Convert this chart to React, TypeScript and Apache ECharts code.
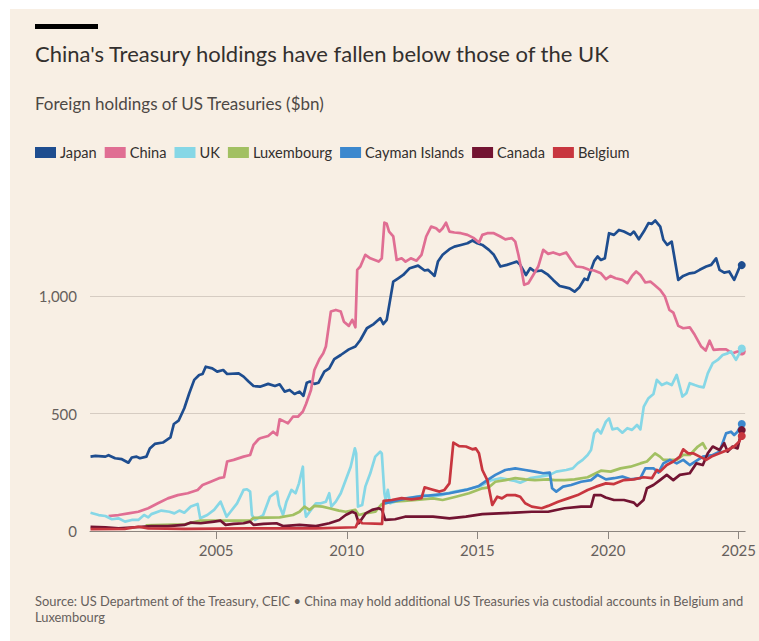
import React, { useEffect, useRef } from "react";
import * as echarts from "echarts";

const seriesNames = ["Japan", "China", "UK", "Luxembourg", "Cayman Islands", "Canada", "Belgium"];
const yTickValues = [0, 500, 1000];
const xTickValues = [2005, 2010, 2015, 2020, 2025];

const japan: [number, number][] = [
  [2000.19,317],[2000.38,320],[2000.76,317],[2000.88,323],[2001.13,310],[2001.39,306],[2001.64,291],[2001.77,313],[2001.95,317],[2002.08,310],[2002.33,317],[2002.46,352],[2002.65,371],[2002.96,377],[2003.25,399],[2003.38,456],[2003.56,470],[2003.78,523],[2003.97,587],[2004.16,644],[2004.35,665],[2004.48,669],[2004.6,700],[2004.85,693],[2005.04,679],[2005.27,686],[2005.42,669],[2005.86,672],[2006.05,658],[2006.24,637],[2006.43,618],[2006.68,615],[2006.99,627],[2007.25,618],[2007.43,625],[2007.62,594],[2007.81,601],[2008.0,584],[2008.19,594],[2008.34,576],[2008.47,632],[2008.59,637],[2008.76,627],[2008.92,632],[2009.14,679],[2009.33,693],[2009.52,732],[2009.77,750],[2010.08,774],[2010.33,786],[2010.52,814],[2010.77,864],[2011.03,882],[2011.28,907],[2011.4,882],[2011.53,900],[2011.66,985],[2011.78,1063],[2011.97,1077],[2012.16,1091],[2012.41,1120],[2012.73,1131],[2012.98,1110],[2013.11,1113],[2013.23,1101],[2013.36,1087],[2013.49,1148],[2013.67,1177],[2013.93,1201],[2014.12,1212],[2014.37,1219],[2014.62,1226],[2014.81,1238],[2015.0,1226],[2015.19,1219],[2015.44,1198],[2015.63,1177],[2015.88,1127],[2016.13,1134],[2016.32,1141],[2016.51,1148],[2016.64,1134],[2016.86,1091],[2017.02,1120],[2017.19,1106],[2017.46,1110],[2017.71,1091],[2017.9,1070],[2018.15,1044],[2018.34,1039],[2018.53,1034],[2018.72,1020],[2018.91,1039],[2019.1,1075],[2019.22,1070],[2019.35,1113],[2019.47,1150],[2019.6,1170],[2019.73,1155],[2019.88,1162],[2020.04,1269],[2020.23,1262],[2020.42,1283],[2020.61,1276],[2020.86,1262],[2020.99,1276],[2021.18,1243],[2021.37,1276],[2021.55,1312],[2021.68,1309],[2021.81,1323],[2022.0,1297],[2022.12,1241],[2022.27,1219],[2022.44,1233],[2022.56,1155],[2022.69,1070],[2022.88,1087],[2023.13,1098],[2023.32,1101],[2023.51,1113],[2023.76,1127],[2023.95,1134],[2024.14,1162],[2024.27,1113],[2024.45,1101],[2024.64,1106],[2024.83,1070],[2025.02,1120],[2025.12,1133]
];

const china: [number, number][] = [
  [2000.88,64],[2001.26,68],[2001.64,75],[2002.02,82],[2002.4,97],[2002.77,118],[2003.15,139],[2003.53,153],[2003.91,161],[2004.29,175],[2004.48,196],[2004.79,210],[2005.11,225],[2005.3,229],[2005.42,296],[2005.67,303],[2006.05,317],[2006.3,324],[2006.43,367],[2006.62,391],[2006.68,395],[2006.99,405],[2007.18,423],[2007.33,409],[2007.43,476],[2007.62,466],[2007.75,459],[2007.94,487],[2008.13,487],[2008.32,509],[2008.44,541],[2008.63,601],[2008.76,686],[2008.95,732],[2009.1,757],[2009.2,786],[2009.39,935],[2009.58,942],[2009.77,935],[2009.89,892],[2010.08,874],[2010.21,900],[2010.33,868],[2010.4,1113],[2010.52,1127],[2010.71,1177],[2010.9,1162],[2011.22,1148],[2011.34,1162],[2011.44,1314],[2011.53,1309],[2011.62,1276],[2011.78,1255],[2011.91,1155],[2012.1,1162],[2012.25,1148],[2012.45,1162],[2012.67,1152],[2012.86,1177],[2013.04,1255],[2013.23,1297],[2013.42,1290],[2013.55,1276],[2013.67,1290],[2013.8,1314],[2013.93,1276],[2014.12,1272],[2014.37,1269],[2014.62,1262],[2014.87,1248],[2015.06,1229],[2015.19,1262],[2015.38,1269],[2015.63,1269],[2015.88,1255],[2016.07,1243],[2016.32,1248],[2016.45,1233],[2016.57,1177],[2016.7,1106],[2016.79,1049],[2016.95,1056],[2017.14,1091],[2017.33,1127],[2017.52,1198],[2017.71,1181],[2017.9,1187],[2018.15,1177],[2018.4,1187],[2018.59,1155],[2018.78,1127],[2019.03,1124],[2019.28,1113],[2019.47,1110],[2019.73,1098],[2019.92,1073],[2020.1,1087],[2020.29,1077],[2020.55,1070],[2020.74,1056],[2020.92,1087],[2021.08,1106],[2021.24,1091],[2021.43,1059],[2021.62,1063],[2021.77,1049],[2022.0,1027],[2022.18,999],[2022.35,942],[2022.5,931],[2022.69,874],[2022.88,864],[2023.13,868],[2023.32,836],[2023.57,786],[2023.74,769],[2023.89,811],[2024.04,772],[2024.27,774],[2024.52,774],[2024.77,757],[2024.96,765],[2025.12,765]
];

const uk: [number, number][] = [
  [2000.19,78],[2000.5,68],[2000.76,64],[2001.01,50],[2001.26,54],[2001.51,40],[2001.77,47],[2002.02,47],[2002.24,68],[2002.4,58],[2002.52,72],[2002.9,87],[2003.21,82],[2003.4,75],[2003.59,87],[2003.78,78],[2004.03,104],[2004.29,115],[2004.39,54],[2004.66,68],[2004.92,90],[2005.17,125],[2005.4,61],[2005.55,82],[2005.8,118],[2006.05,175],[2006.18,178],[2006.3,168],[2006.37,68],[2006.49,47],[2006.8,68],[2007.06,146],[2007.25,161],[2007.33,168],[2007.41,111],[2007.56,68],[2007.69,125],[2007.88,175],[2008.04,161],[2008.17,203],[2008.32,274],[2008.38,104],[2008.44,61],[2008.63,90],[2008.82,118],[2009.01,118],[2009.2,125],[2009.33,161],[2009.41,104],[2009.58,125],[2009.77,161],[2009.96,217],[2010.15,274],[2010.31,352],[2010.36,331],[2010.43,104],[2010.59,111],[2010.71,189],[2010.9,246],[2011.09,317],[2011.28,338],[2011.34,331],[2011.44,161],[2011.49,132],[2011.57,175],[2011.66,118],[2011.85,125],[2012.23,139],[2012.6,144],[2012.98,153],[2013.23,146],[2013.61,153],[2014.12,168],[2014.62,178],[2015.12,192],[2015.5,215],[2015.88,225],[2016.38,215],[2016.64,206],[2017.02,225],[2017.39,232],[2017.77,239],[2018.02,253],[2018.4,260],[2018.65,267],[2018.84,288],[2019.03,303],[2019.22,324],[2019.35,345],[2019.47,416],[2019.6,433],[2019.73,416],[2019.92,466],[2020.04,480],[2020.17,433],[2020.36,438],[2020.55,419],[2020.74,438],[2020.92,431],[2021.11,452],[2021.24,433],[2021.37,530],[2021.55,566],[2021.74,584],[2021.87,644],[2022.06,622],[2022.25,632],[2022.44,622],[2022.63,665],[2022.75,615],[2022.85,573],[2023.0,587],[2023.13,630],[2023.32,622],[2023.51,615],[2023.66,612],[2023.82,672],[2024.01,715],[2024.2,729],[2024.39,750],[2024.58,757],[2024.71,765],[2024.9,729],[2025.02,755],[2025.12,778]
];

const luxembourg: [number, number][] = [
  [2002.3,24],[2003.0,26],[2003.8,28],[2004.4,44],[2005.2,44],[2006.3,44],[2006.43,56],[2007.43,58],[2007.94,68],[2008.19,82],[2008.38,104],[2008.57,90],[2008.76,107],[2009.07,104],[2009.33,97],[2009.7,87],[2009.96,82],[2010.33,90],[2010.46,68],[2010.71,75],[2011.09,82],[2011.34,115],[2011.72,125],[2012.2,128],[2012.67,132],[2013.3,139],[2013.67,132],[2014.18,146],[2014.68,161],[2015.19,182],[2015.44,186],[2015.69,210],[2016.07,217],[2016.45,225],[2016.83,220],[2017.2,217],[2017.71,220],[2017.96,217],[2018.34,217],[2018.72,220],[2019.22,229],[2019.73,257],[2020.1,253],[2020.48,267],[2020.86,274],[2021.24,288],[2021.49,296],[2021.8,331],[2021.99,317],[2022.12,303],[2022.63,303],[2022.88,324],[2023.13,324],[2023.44,360],[2023.63,374],[2023.76,348]
];

const cayman: [number, number][] = [
  [2011.45,118],[2011.85,128],[2012.25,138],[2012.67,146],[2013.3,153],[2013.93,161],[2014.56,175],[2015.06,192],[2015.38,217],[2015.69,239],[2016.07,260],[2016.45,267],[2016.83,260],[2017.2,253],[2017.52,246],[2017.77,249],[2017.86,182],[2018.02,168],[2018.28,189],[2018.59,196],[2018.97,210],[2019.35,217],[2019.6,239],[2019.92,220],[2020.23,225],[2020.55,232],[2020.86,220],[2021.24,225],[2021.43,267],[2021.74,267],[2021.93,249],[2022.12,288],[2022.37,303],[2022.63,288],[2022.88,303],[2023.13,281],[2023.63,317],[2024.01,324],[2024.27,338],[2024.52,416],[2024.71,423],[2024.83,409],[2024.96,423],[2025.12,456]
];

const canada: [number, number][] = [
  [2000.19,18],[2000.76,16],[2001.26,11],[2001.89,16],[2002.52,21],[2003.15,21],[2003.78,26],[2004.03,36],[2004.41,33],[2004.92,40],[2005.17,44],[2005.36,26],[2005.67,30],[2006.05,33],[2006.3,40],[2006.43,26],[2006.81,30],[2007.31,33],[2007.56,21],[2008.19,26],[2008.82,21],[2009.33,33],[2009.71,47],[2009.96,68],[2010.21,82],[2010.34,75],[2010.46,33],[2010.72,75],[2010.97,90],[2011.22,97],[2011.35,90],[2011.47,47],[2011.85,50],[2012.23,61],[2012.67,61],[2013.3,61],[2013.93,54],[2014.56,61],[2015.19,72],[2015.82,75],[2016.45,78],[2017.08,82],[2017.71,82],[2018.34,97],[2018.97,104],[2019.35,104],[2019.47,153],[2019.73,153],[2019.91,143],[2020.23,132],[2020.61,132],[2020.99,121],[2021.11,107],[2021.36,132],[2021.49,182],[2021.74,196],[2021.99,217],[2022.25,239],[2022.5,217],[2022.75,239],[2023.13,246],[2023.38,288],[2023.63,281],[2023.82,331],[2024.01,360],[2024.27,345],[2024.45,374],[2024.58,338],[2024.77,360],[2024.96,352],[2025.12,430]
];

const belgium: [number, number][] = [
  [2000.19,8],[2001.5,9],[2002.02,18],[2002.4,11],[2003.78,9],[2006.3,11],[2008.82,11],[2010.34,16],[2010.46,47],[2010.59,33],[2011.35,30],[2011.41,128],[2011.72,132],[2012.1,140],[2012.48,135],[2012.86,140],[2012.98,186],[2013.23,178],[2013.55,168],[2013.74,175],[2013.93,203],[2014.08,377],[2014.3,362],[2014.56,360],[2014.81,348],[2014.94,352],[2015.06,331],[2015.19,260],[2015.38,217],[2015.57,111],[2015.76,146],[2015.94,139],[2016.13,153],[2016.45,153],[2016.64,146],[2016.83,118],[2017.08,104],[2017.46,97],[2017.71,107],[2018.09,125],[2018.47,139],[2018.84,153],[2019.22,175],[2019.54,189],[2019.92,203],[2020.23,200],[2020.61,217],[2020.99,220],[2021.36,229],[2021.68,225],[2021.87,260],[2021.99,253],[2022.25,281],[2022.5,296],[2022.75,317],[2022.88,348],[2023.07,331],[2023.26,331],[2023.51,317],[2023.76,303],[2024.01,320],[2024.27,331],[2024.58,345],[2024.83,360],[2025.02,381],[2025.12,405]
];

const seriesData = [japan, china, uk, luxembourg, cayman, canada, belgium];
const seriesColors = ["#1E4D8F", "#E06E93", "#86D7E6", "#A2C062", "#3C88CE", "#731432", "#C8363F"];
const endDots = [true, true, true, false, true, true, true];

const FONT = "Lato, 'Noto Sans', sans-serif";

export default function App() {
  const ref = useRef<HTMLDivElement>(null);
  useEffect(() => {
    if (!ref.current) return;
    const chart = echarts.init(ref.current, undefined, { renderer: "svg" });
    const series = seriesNames.map((name, i) => {
      const d = seriesData[i];
      return {
        name,
        type: "line",
        showSymbol: true,
        symbol: "none",
        lineStyle: { width: 2.7, color: seriesColors[i], join: "round" },
        itemStyle: { color: seriesColors[i] },
        emphasis: { disabled: true },
        z: 2 + i,
        data: d.map((p, j) =>
          j === d.length - 1 && endDots[i]
            ? { value: p, symbol: "circle", symbolSize: 8 }
            : { value: p }
        ),
      };
    });
    chart.setOption({
      animation: false,
      backgroundColor: "#F8EFE4",
      textStyle: { fontFamily: FONT },
      grid: { left: 80, right: 6.3, top: 170, bottom: 110, containLabel: false },
      legend: {
        left: 25,
        top: 136,
        itemWidth: 21,
        itemHeight: 11,
        itemGap: 8,
        padding: 0,
        icon: "rect",
        textStyle: { fontSize: 14.6, color: "#33302E", fontFamily: FONT, padding: [0, 0, 0, -1] },
        data: seriesNames,
        selectedMode: false,
      },
      xAxis: {
        type: "value",
        min: 2000.17,
        max: 2025.25,
        axisLine: { show: true, lineStyle: { color: "#8C857F", width: 1 } },
        axisTick: { show: true, length: 8, customValues: xTickValues, lineStyle: { color: "#8C857F" } },
        axisLabel: {
          customValues: xTickValues,
          fontSize: 15,
          color: "#66605C",
          margin: 11,
          fontFamily: FONT,
          formatter: (v: number) => String(Math.round(v)),
        },
        splitLine: { show: false },
      },
      yAxis: {
        type: "value",
        min: 0,
        max: 1500,
        interval: 500,
        axisLine: { show: false },
        axisTick: { show: false },
        axisLabel: {
          fontSize: 15,
          color: "#66605C",
          margin: 13,
          fontFamily: FONT,
          formatter: (v: number) => (yTickValues.includes(v) ? v.toLocaleString("en-US") : ""),
        },
        splitLine: {
          show: true,
          lineStyle: { color: ["#D6CCC2", "#D6CCC2", "#D6CCC2", "rgba(0,0,0,0)"], width: 1 },
        },
      },
      graphic: [
        { type: "rect", left: 25, top: 15, shape: { width: 63, height: 5 }, style: { fill: "#000000" } },
        {
          type: "text",
          left: 25,
          top: 33.5,
          style: {
            text: "China's Treasury holdings have fallen below those of the UK",
            fontSize: 22,
            fill: "#33302E",
            fontFamily: FONT,
          },
        },
        {
          type: "text",
          left: 25,
          top: 85.5,
          style: {
            text: "Foreign holdings of US Treasuries ($bn)",
            fontSize: 17,
            fill: "#4D4845",
            fontFamily: FONT,
          },
        },
        {
          type: "text",
          left: 25,
          top: 584,
          style: {
            text:
              "Source: US Department of the Treasury, CEIC \u2022 China may hold additional US Treasuries via custodial accounts in Belgium and\nLuxembourg",
            fontSize: 12.9,
            lineHeight: 16,
            fill: "#66605C",
            fontFamily: FONT,
          },
        },
      ],
      series,
    });
    return () => chart.dispose();
  }, []);
  return (
    <div
      ref={ref}
      style={{ position: "absolute", left: 10, top: 9, width: 749, height: 632 }}
    />
  );
}
